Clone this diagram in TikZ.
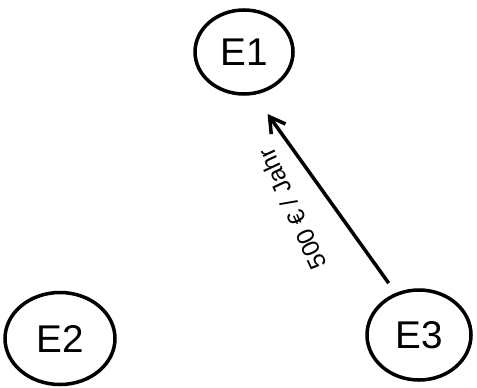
\documentclass[tikz,border=0pt]{standalone}
\usepackage{fontspec}
\setmainfont{Liberation Sans}
\usetikzlibrary{shapes.geometric, arrows.meta}
\begin{document}
\begin{tikzpicture}[entity/.style={ellipse, draw, line width=2pt, inner sep=0pt, font=\fontsize{22}{26}\selectfont}]
    \useasboundingbox (0,0) rectangle (9.54,7.74);
    \node[entity, minimum width=1.96cm, minimum height=1.68cm] (E1) at (4.88,6.70) {E1};
    \node[entity, minimum width=2.2cm, minimum height=1.84cm] (E2) at (1.2,0.97) {E2};
    \node[entity, minimum width=2.08cm, minimum height=1.8cm] (E3) at (8.38,1.04) {E3};
    \draw[-{Straight Barb[length=3mm, width=3.5mm]}, line width=2pt, shorten <=0.24cm, shorten >=0.47cm] (E3.119) -- (E1.-77)
    node[pos=0.5, rotate=115, yshift=0.72cm, font=\fontsize{14}{16}\selectfont] (cost) {500 € / Jahr};
\end{tikzpicture}
\end{document}
